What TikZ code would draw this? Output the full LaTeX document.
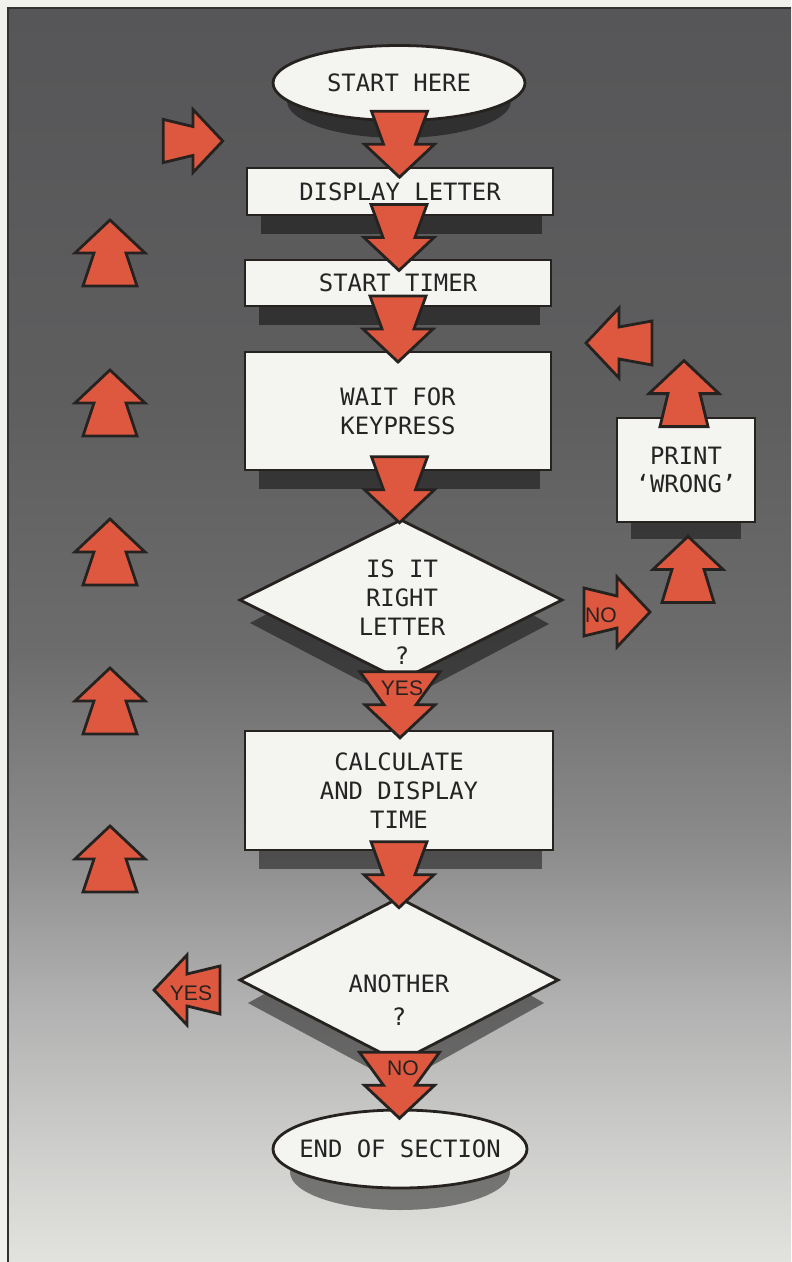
\documentclass[tikz,border=0pt]{standalone}
\usepackage{fontspec}
\usepackage{tikz}
\usetikzlibrary{positioning, shapes.geometric, calc, backgrounds}
\newfontfamily\chartfont{DejaVu Sans Mono}
\newfontfamily\tagfont{Liberation Sans}
\definecolor{arrowred}{RGB}{222,88,64}
\definecolor{inkline}{RGB}{38,34,32}
\definecolor{boxwhite}{RGB}{244,244,241}
\definecolor{margin}{RGB}{240,240,236}
\definecolor{frameline}{RGB}{50,50,50}
\definecolor{textgray}{RGB}{36,36,36}
\definecolor{bgA}{RGB}{226,226,223}
\definecolor{bgB}{RGB}{206,206,204}
\definecolor{bgC}{RGB}{176,176,176}
\definecolor{bgD}{RGB}{140,140,140}
\definecolor{bgE}{RGB}{108,108,108}
\definecolor{bgF}{RGB}{94,94,95}
\definecolor{bgG}{RGB}{86,86,88}
\pgfdeclareverticalshading{paneshade}{100bp}{color(0bp)=(bgA); color(25bp)=(bgA); color(29.5bp)=(bgB); color(35.5bp)=(bgC); color(41.5bp)=(bgD); color(49.4bp)=(bgE); color(59.4bp)=(bgF); color(75bp)=(bgG); color(100bp)=(bgG)}

\begin{document}
\begin{tikzpicture}[x=0.25mm, y=0.25mm,
        every node/.style={font={\chartfont\fontsize{17}{20.5}\selectfont}, text=textgray},
        box/.style={rectangle, draw=inkline, fill=boxwhite, line width=0.7mm,
                    minimum width=76.5mm, align=center, inner sep=0pt},
        oval/.style={ellipse, draw=inkline, fill=boxwhite, line width=0.7mm, inner sep=-3mm},
        test/.style={diamond, draw=inkline, fill=boxwhite, line width=0.7mm,
                     inner sep=0pt, outer sep=0pt},
        shadow/.style={fill=black, fill opacity=0.45},
        tag/.style={font={\tagfont\fontsize{15}{15}\selectfont}, text=inkline, inner sep=0pt},
        chevbody/.style={draw=inkline, fill=arrowred, line width=0.7mm},
        pics/chev/.style={code={
          \draw[chevbody] (-33,#1) -- (0,16) -- (0,35) -- (33,0) -- (0,-35)
                          -- (0,-16) -- (-33,-#1) -- cycle;
        }},
        pics/chev/.default=28]
      \useasboundingbox (0,0) rectangle (791,-1262);
      \node[oval, minimum width=63mm, minimum height=18.75mm] (start) at (399,-83) {START HERE};
      \node[box, minimum height=11.75mm] (disp)  at (400,-191.5) {DISPLAY LETTER};
      \node[box, minimum height=11.5mm]  (timer) at (398,-283)   {START TIMER};
      \node[box, minimum height=29.5mm]  (wait)  at (398,-411)   {WAIT FOR\\KEYPRESS};
      \node[test, minimum width=80.5mm, minimum height=40mm] (check) at (401,-600) {};
      \node[align=center] (checktxt) at (402,-612) {IS IT\\RIGHT\\LETTER\\?};
      \node[box, minimum width=77mm, minimum height=29.75mm] (calc) at (399,-790.5)
            {CALCULATE\\AND DISPLAY\\TIME};
      \node[test, minimum width=79.5mm, minimum height=41mm] (again) at (399,-980) {};
      \node[align=center] (againtxt) at (399,-1000) {ANOTHER\\[3.5pt]?};
      \node[oval, minimum width=63.5mm, minimum height=19.5mm] (finish) at (400,-1149)
            {END OF SECTION};
      \node[box, minimum width=34.5mm, minimum height=26mm] (wrong) at (686,-470)
            {PRINT\\‘WRONG’};
      \begin{scope}[on background layer]
        \fill[margin] (0,0) rectangle (791,-1262);
        \shade[shading=paneshade] (8,-8) rectangle (791,-1262);
        \draw[frameline, line width=0.5mm] (8,-1262) -- (8,-8) -- (791,-8);
        \foreach \n in {disp, timer, wait, calc}
          \fill[shadow] ([shift={(15,0)}]\n.south west) rectangle ([shift={(-12,-18)}]\n.south east);
        \fill[shadow] ([shift={(15,0)}]wrong.south west) rectangle ([shift={(-15,-16)}]wrong.south east);
        \fill[shadow] ($(start.center)+(0,-18)$) ellipse [x radius=112, y radius=37];
        \fill[shadow] ($(finish.center)+(0,-23)$) ellipse [x radius=110, y radius=38];
        \fill[shadow] ([shift={(10,-23)}]check.west) -- ([shift={(0,-22)}]check.north)
          -- ([shift={(-13,-24)}]check.east) -- ([shift={(0,-22)}]check.south) -- cycle;
        \fill[shadow] ([shift={(8,-23)}]again.west) -- ([shift={(0,-22)}]again.north)
          -- ([shift={(-14,-23)}]again.east) -- ([shift={(0,-22)}]again.south) -- cycle;
      \end{scope}
      \pic[rotate=-90] at ($(start.south)!0.5!(disp.north)$) {chev};
      \pic[rotate=-90] at ($(disp.south)!0.5!(timer.north)$) {chev};
      \pic[rotate=-90] at ($(timer.south)!0.5!(wait.north)$) {chev};
      \pic[rotate=-90] at ($(wait.south)!0.5!(check.north)+(0,6)$) {chev};
      \pic[rotate=-90] at ($(check.south)!0.5!(calc.north)$) {chev=40};
      \pic[rotate=-90] at ($(calc.south)!0.5!(again.north)$) {chev};
      \pic[rotate=-90] at ($(again.south)!0.5!(finish.north)$) {chev=40};
      \node[tag] (yesdown) at ($(check.south)+(1,-8)$) {YES};
      \node[tag] (nodown) at ($(again.south)+(4,-6)$) {NO};
      \pic at ($(check.east)+(55,-12)$) {chev=24};
      \node[tag] (noright) at (601,-615) {NO};
      \pic[rotate=90] at ($(wrong.south)+(2,-46)$) {chev=26};
      \pic[rotate=90] at ($(wrong.north)+(-2,23)$) {chev=24};
      \pic[rotate=180] at (619,-343) {chev=22};
      \pic[scale=0.9] at (193,-141) {chev=24};
      \foreach \y in {253,403,552,701,859}
        \pic[rotate=90] at (110,-\y) {chev=27};
      \pic[rotate=180] at (187,-990) {chev=24};
      \node[tag] (yesleft) at (191,-993) {YES};
    \end{tikzpicture}
\end{document}
